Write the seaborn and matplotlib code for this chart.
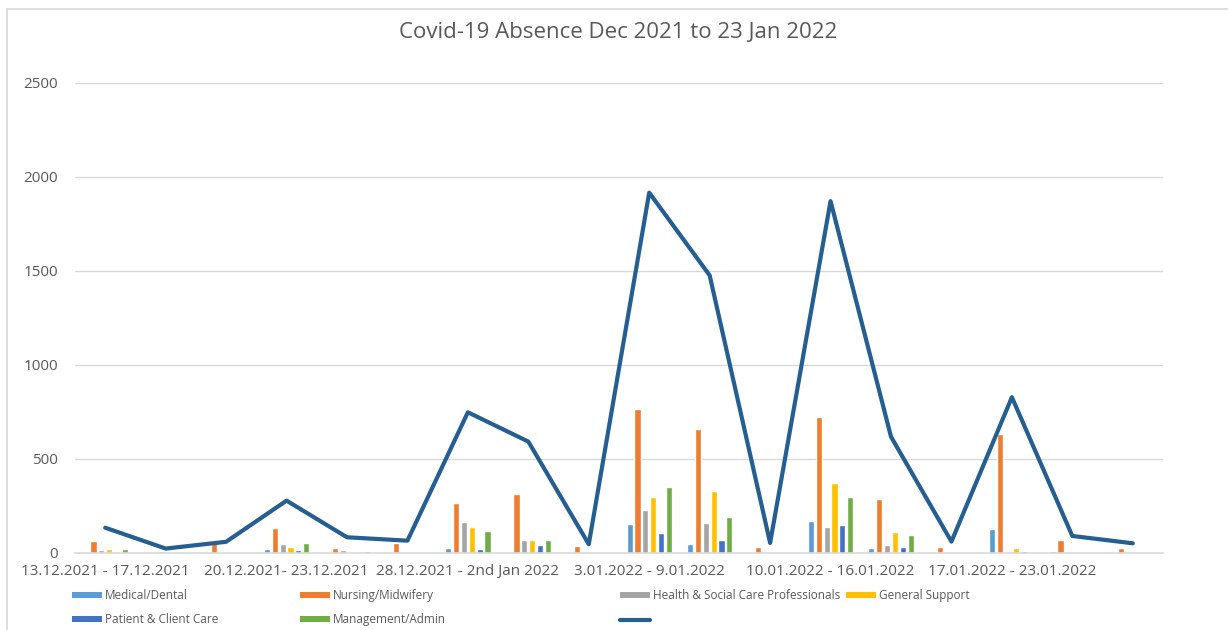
import numpy as np
import pandas as pd
import matplotlib
matplotlib.use("Agg")
import matplotlib.pyplot as plt
from matplotlib.patches import Patch, Rectangle
from matplotlib.lines import Line2D
import seaborn as sns

# Weekly staff absence counts, 18 reporting periods
n_periods = 18
week_labels = [
    "13.12.2021 - 17.12.2021",
    "20.12.2021- 23.12.2021",
    "28.12.2021 - 2nd Jan 2022",
    "3.01.2022 - 9.01.2022",
    "10.01.2022 - 16.01.2022",
    "17.01.2022 - 23.01.2022",
]
label_every = 3

staff_groups = [
    "Medical/Dental",
    "Nursing/Midwifery",
    "Health & Social Care Professionals",
    "General Support",
    "Patient & Client Care",
    "Management/Admin",
]

medical_dental = [5, 0, 0, 20, 3, 0, 27, 5, 0, 152, 46, 0, 169, 27, 0, 124, 8, 3]
nursing_midwifery = [60, 0, 55, 130, 25, 50, 263, 312, 36, 763, 656, 32, 722, 286, 32, 631, 66, 27]
health_social_care = [12, 8, 5, 45, 15, 0, 162, 66, 0, 227, 158, 0, 138, 43, 3, 3, 0, 3]
general_support = [20, 0, 0, 30, 5, 0, 135, 68, 0, 295, 328, 0, 372, 108, 0, 27, 0, 0]
patient_client_care = [5, 0, 0, 15, 5, 4, 18, 39, 0, 106, 68, 3, 147, 32, 3, 11, 0, 4]
management_admin = [20, 5, 0, 50, 8, 4, 117, 68, 0, 350, 190, 3, 298, 94, 3, 5, 0, 0]
total_absence = [133, 22, 58, 277, 82, 64, 747, 591, 45, 1915, 1475, 52, 1870, 617, 59, 827, 89, 50]

series = [medical_dental, nursing_midwifery, health_social_care,
          general_support, patient_client_care, management_admin]
bar_colors = ["#5B9BD5", "#ED7D31", "#A5A5A5", "#FFC000", "#4472C4", "#70AD47"]
line_color = "#255E91"
text_color = "#595959"

records = []
for group, values in zip(staff_groups, series):
    for i, v in enumerate(values):
        records.append({"period": i, "group": group, "absence": v})
df = pd.DataFrame(records)

sns.set_theme(style="white")
plt.rcParams["font.family"] = ["Open Sans", "DejaVu Sans"]

fig = plt.figure(figsize=(12.28, 6.3), dpi=100)
ax = fig.add_axes([75 / 1228, 1 - 552.7 / 630, (1163 - 75) / 1228, (552.7 - 82.7) / 630])

sns.barplot(data=df, x="period", y="absence", hue="group", hue_order=staff_groups,
            palette=bar_colors, width=0.78, gap=0.22, ax=ax, legend=False,
            errorbar=None, saturation=1)
sns.lineplot(x=np.arange(n_periods), y=total_absence, color=line_color,
             linewidth=3, ax=ax, zorder=5)

ax.set_xlim(-0.5, n_periods - 0.5)
ax.set_ylim(0, 2500)
ax.set_yticks(np.arange(0, 2501, 500))
ax.yaxis.grid(True, color="#D9D9D9", linewidth=1)
ax.set_axisbelow(True)
ax.set_xticks(np.arange(0, n_periods, label_every))
ax.set_xticklabels(week_labels)
ax.tick_params(axis="x", length=0, pad=8, labelsize=11, labelcolor=text_color)
ax.tick_params(axis="y", length=0, pad=12, labelsize=11, labelcolor=text_color)
ax.set_xlabel("")
ax.set_ylabel("")
for side in ["top", "right", "left"]:
    ax.spines[side].set_visible(False)
ax.spines["bottom"].set_color("#D9D9D9")
ax.spines["bottom"].set_linewidth(1.2)

fig.text(618 / 1228, 1 - 32 / 630, "Covid-19 Absence Dec 2021 to 23 Jan 2022",
         ha="center", va="center", fontsize=16, color=text_color)

# chart area border
fig.patches.append(Rectangle((7 / 1228, -0.1), 1.2, (630 - 9) / 630 + 0.1,
                             transform=fig.transFigure, fill=False,
                             edgecolor="#D9D9D9", linewidth=1.2))

# legend laid out in four columns below the plot
patch_h = [Patch(facecolor=c, edgecolor="none") for c in bar_colors]
line_h = Line2D([], [], color=line_color, linewidth=3)
columns = [
    (72, [patch_h[0], patch_h[4]], [staff_groups[0], staff_groups[4]]),
    (300, [patch_h[1], patch_h[5]], [staff_groups[1], staff_groups[5]]),
    (620, [patch_h[2], line_h], [staff_groups[2], ""]),
    (846, [patch_h[3]], [staff_groups[3]]),
]
for x_px, handles, labels in columns:
    fig.legend(handles, labels, loc="upper left",
               bbox_to_anchor=(x_px / 1228, 1 - 589 / 630),
               frameon=False, borderpad=0, borderaxespad=0,
               handlelength=2.5, handleheight=0.45, handletextpad=0.3,
               labelspacing=0.95, fontsize=8.5, labelcolor=text_color)

fig.savefig("out.png", dpi=100, facecolor="white")
